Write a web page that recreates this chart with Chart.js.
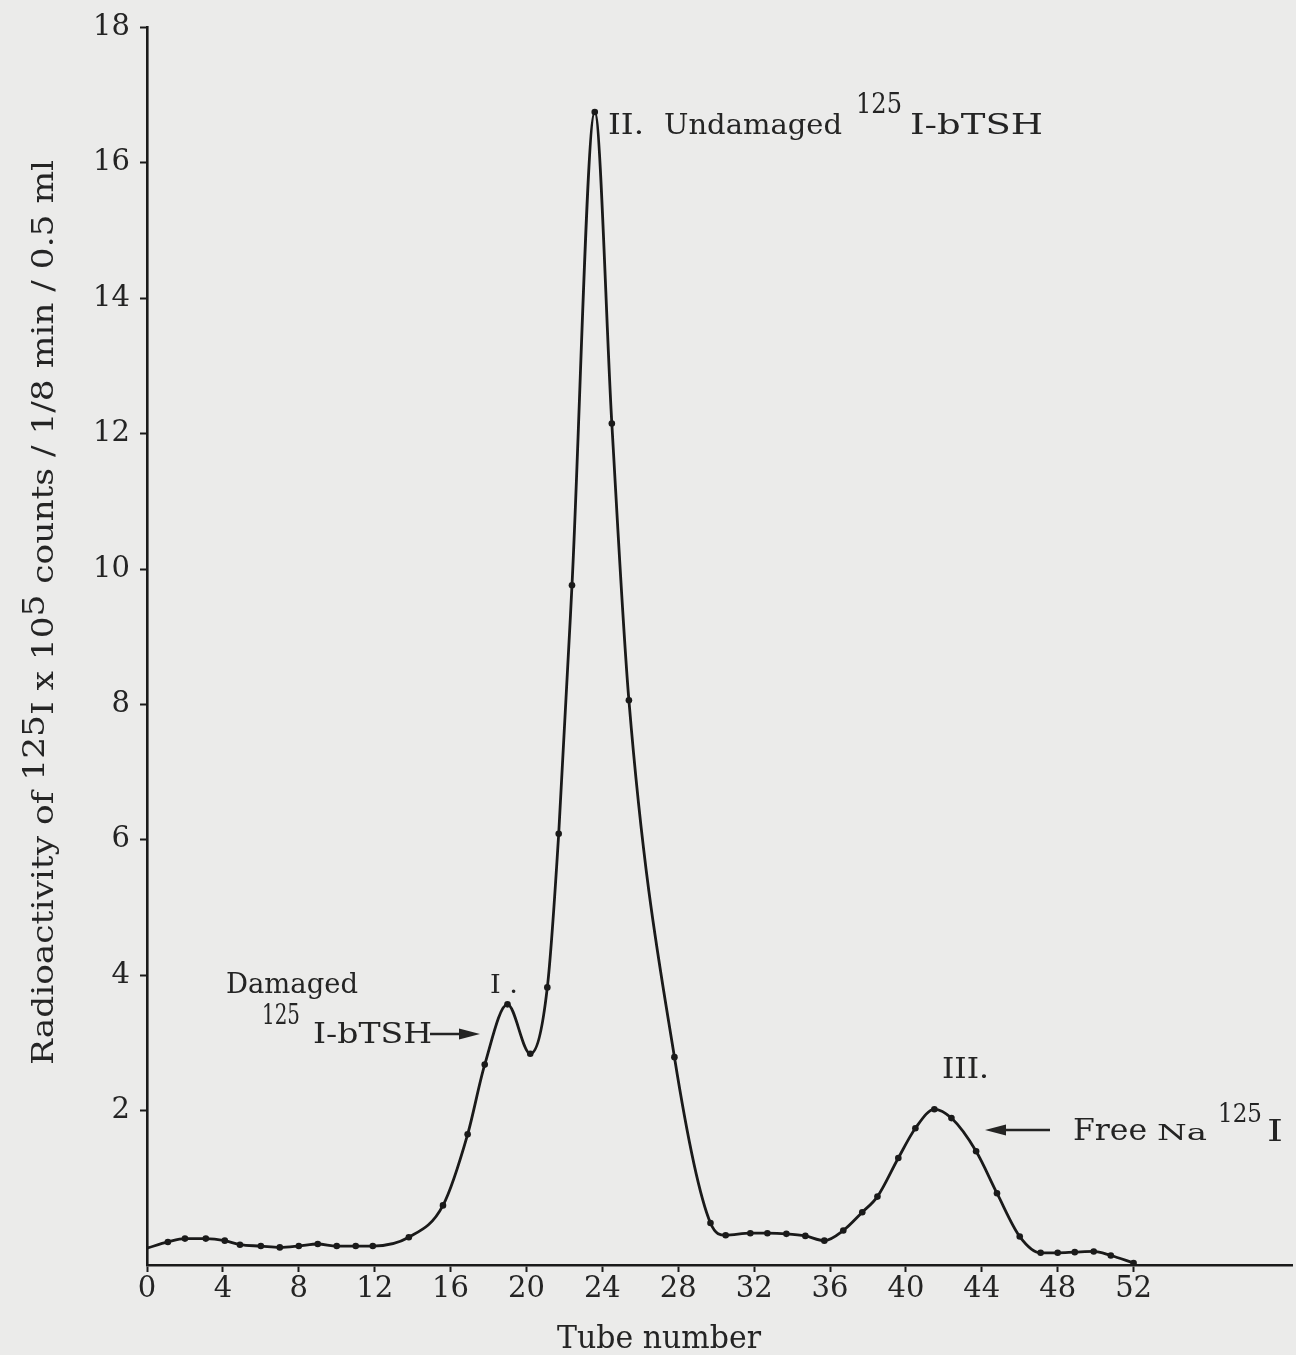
<!DOCTYPE html>
<html>
<head>
<meta charset="utf-8">
<script src="https://cdn.jsdelivr.net/npm/chart.js@4.4.0/dist/chart.umd.min.js"></script>
<style>
html,body{margin:0;padding:0;background:#ebebea;}
#wrap{width:1296px;height:1355px;position:relative;}
canvas{display:block;}
</style>
</head>
<body>
<div id="wrap"><canvas id="c" width="1296" height="1355"></canvas></div>
<script>
// ---- data ----
const tubeNumber = [0, 1.1, 2.0, 3.1, 4.1, 4.9, 6.0, 7.0, 8.0, 9.0, 10.0, 11.0, 11.9, 13.8, 15.6, 16.9, 17.8, 19.0, 20.2, 21.1, 21.7, 22.4, 23.6, 24.5, 25.4, 27.8, 29.7, 30.5, 31.8, 32.7, 33.7, 34.7, 35.7, 36.7, 37.7, 38.5, 39.6, 40.5, 41.5, 42.4, 43.7, 44.8, 46.0, 47.1, 48.0, 48.9, 49.9, 50.8, 52.0];
const radioactivity = [-0.03, 0.06, 0.11, 0.11, 0.08, 0.02, 0.0, -0.02, 0.0, 0.03, 0.0, 0.0, 0.0, 0.13, 0.60, 1.65, 2.68, 3.57, 2.84, 3.82, 6.09, 9.76, 16.75, 12.15, 8.06, 2.79, 0.34, 0.16, 0.19, 0.19, 0.18, 0.15, 0.08, 0.23, 0.50, 0.73, 1.30, 1.74, 2.02, 1.89, 1.40, 0.78, 0.14, -0.10, -0.10, -0.09, -0.08, -0.14, -0.25];
const xTickValues = [0, 4, 8, 12, 16, 20, 24, 28, 32, 36, 40, 44, 48, 52];
const yTickValues = [2, 4, 6, 8, 10, 12, 14, 16, 18];
const xAxisTitle = 'Tube number';
const yAxisTitleParts = [
  {t: 'Radioactivity of '}, {t: '125', sup: true}, {t: 'I x 10'}, {t: '5', sup: true},
  {t: ' counts / 1/8 min / 0.5 ml'}
];
const peakTexts = ['Damaged', '125', 'I-bTSH', 'I .', 'II.', 'Undamaged', '125', 'I-bTSH', 'III.', 'Free', 'Na', '125', 'I'];

// ---- layout of annotation text (pixel placement) ----
const INK = '#242424';
const SERIF = '"DejaVu Serif", "Liberation Serif", serif';
const textPlacement = [
  {x: 226, y: 993, s: 27, w: 132},   // Damaged
  {x: 262, y: 1024, s: 27, w: 38},   // 125
  {x: 313, y: 1043, s: 27, w: 119},  // I-bTSH
  {x: 490, y: 993, s: 26, w: 28},    // I .
  {x: 608, y: 134, s: 28, w: 36},    // II.
  {x: 664, y: 134, s: 28, w: 178},   // Undamaged
  {x: 856, y: 113, s: 28, w: 46},    // 125
  {x: 910, y: 134, s: 28, w: 133},   // I-bTSH
  {x: 942, y: 1078, s: 27, w: 47},   // III.
  {x: 1073, y: 1140, s: 30, w: 74},  // Free
  {x: 1157, y: 1140, s: 23, w: 50},  // Na
  {x: 1218, y: 1122, s: 26, w: 44},  // 125
  {x: 1267, y: 1141, s: 30, w: 16}   // I
];

function fitText(ctx, text, x, y, size, width) {
  ctx.save();
  ctx.font = size + 'px ' + SERIF;
  ctx.textAlign = 'left';
  ctx.textBaseline = 'alphabetic';
  const nat = ctx.measureText(text).width;
  ctx.translate(x, y);
  ctx.scale(width / nat, 1);
  ctx.fillText(text, 0, 0);
  ctx.restore();
}

function arrow(ctx, x1, x2, y) {
  const dir = Math.sign(x2 - x1);
  ctx.save();
  ctx.strokeStyle = INK; ctx.fillStyle = INK; ctx.lineWidth = 2.4;
  ctx.beginPath(); ctx.moveTo(x1, y); ctx.lineTo(x2 - dir * 16, y); ctx.stroke();
  ctx.beginPath(); ctx.moveTo(x2, y); ctx.lineTo(x2 - dir * 21, y - 5.5); ctx.lineTo(x2 - dir * 21, y + 5.5); ctx.closePath(); ctx.fill();
  ctx.restore();
}

const annotationPlugin = {
  id: 'annotations',
  beforeDraw(chart) {
    const ctx = chart.ctx;
    ctx.save(); ctx.fillStyle = '#ebebea'; ctx.fillRect(0, 0, chart.width, chart.height); ctx.restore();
  },
  afterDraw(chart) {
    const ctx = chart.ctx;
    ctx.save();
    ctx.fillStyle = INK;
    peakTexts.forEach((t, i) => {
      const p = textPlacement[i];
      fitText(ctx, t, p.x, p.y, p.s, p.w);
    });
    arrow(ctx, 430, 480, 1034);
    arrow(ctx, 1050, 985, 1130);
    // x-axis title
    fitText(ctx, xAxisTitle, 557, 1348, 31, 204);
    // y-axis title, rotated
    ctx.save();
    ctx.translate(53, 1065);
    ctx.rotate(-Math.PI / 2);
    const size = 29;
    ctx.font = size + 'px ' + SERIF;
    let nat = 0;
    yAxisTitleParts.forEach(p => { nat += ctx.measureText(p.t).width; });
    ctx.scale(905 / nat, 1);
    let cx = 0;
    yAxisTitleParts.forEach(p => {
      ctx.fillText(p.t, cx, p.sup ? -9 : 0);
      cx += ctx.measureText(p.t).width;
    });
    ctx.restore();
    ctx.restore();
  }
};

new Chart(document.getElementById('c'), {
  type: 'scatter',
  data: {
    datasets: [{
      data: tubeNumber.map((t, i) => ({x: t, y: radioactivity[i]})),
      showLine: true,
      borderColor: '#1a1a1a',
      backgroundColor: '#1a1a1a',
      borderWidth: 2.8,
      cubicInterpolationMode: 'monotone',
      pointRadius: ctx => ctx.dataIndex === 0 ? 0 : 3.3,
      pointBorderWidth: 0,
      pointBackgroundColor: '#1a1a1a'
    }]
  },
  options: {
    responsive: false,
    animation: false,
    devicePixelRatio: 1,
    layout: {padding: {top: 25, right: 0, left: 0, bottom: 0}},
    plugins: {legend: {display: false}, tooltip: {enabled: false}},
    scales: {
      x: {
        type: 'linear', min: 0, max: 60.35,
        afterBuildTicks: s => { s.ticks = xTickValues.map(v => ({value: v})); },
        afterFit: s => { s.height = 90; },
        grid: {drawOnChartArea: false, drawTicks: true, tickLength: 7, tickWidth: 2, tickColor: '#1a1a1a'},
        border: {display: true, color: '#1a1a1a', width: 2.6},
        ticks: {font: {family: SERIF, size: 29}, color: INK, padding: 0, maxRotation: 0, autoSkip: false}
      },
      y: {
        type: 'linear', min: -0.28, max: 18,
        afterBuildTicks: s => { s.ticks = yTickValues.map(v => ({value: v})); },
        afterFit: s => { s.width = 147; },
        grid: {drawOnChartArea: false, drawTicks: true, tickLength: 7, tickWidth: 2, tickColor: '#1a1a1a'},
        border: {display: true, color: '#1a1a1a', width: 2.6},
        ticks: {font: {family: SERIF, size: 29}, color: INK, padding: 10, autoSkip: false}
      }
    }
  },
  plugins: [annotationPlugin]
});
</script>
</body>
</html>
